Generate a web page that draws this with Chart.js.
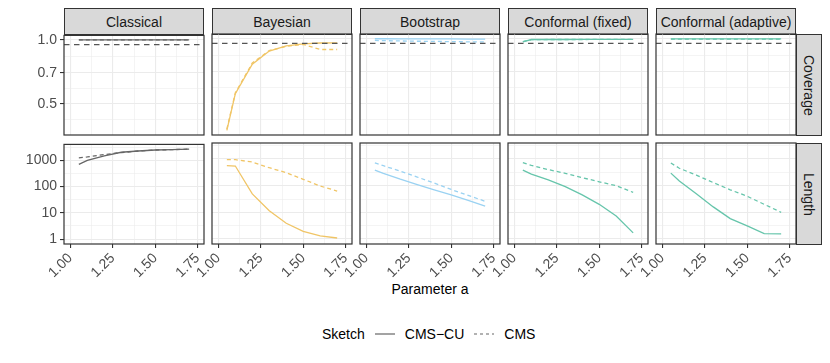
<!DOCTYPE html>
<html>
<head>
<meta charset="utf-8">
<script src="https://cdn.jsdelivr.net/npm/chart.js@4.4.1/dist/chart.umd.min.js"></script>
<style>
  body { margin: 0; background: #fff; font-family: "Liberation Sans", Arial, sans-serif; }
  #wrap { position: relative; width: 830px; height: 363px; overflow: hidden; }
  .strip { position: absolute; box-sizing: border-box; background: #D9D9D9; border: 1px solid #333;
           color: #1A1A1A; font-size: 14px; display: flex; align-items: center; justify-content: center; }
  .strip.right span { writing-mode: vertical-rl; }
  .panel { position: absolute; }
  .title { position: absolute; font-size: 14px; color: #000; }
  #legend { position: absolute; left: 322px; top: 326px; display: flex; align-items: center; font-size: 14px; }
  #legend svg { margin: 0 10px; }
</style>
</head>
<body>
<div id="wrap">
  <div class="title" style="left:0;width:860px;top:281px;text-align:center;">Parameter a</div>
  <div id="legend">
    <span>Sketch</span>
    <svg width="20" height="4"><line x1="0" y1="2" x2="20" y2="2" stroke="#666" stroke-width="1.2"/></svg>
    <span>CMS−CU</span>
    <svg width="20" height="4"><line x1="0" y1="2" x2="20" y2="2" stroke="#666" stroke-width="1.2" stroke-dasharray="3 3"/></svg>
    <span>CMS</span>
  </div>
</div>

<script type="text/javascript">
  // x values (Parameter a)
  var paramA = [1.05, 1.1, 1.2, 1.3, 1.4, 1.5, 1.6, 1.7];
  var methods = ['Classical', 'Bayesian', 'Bootstrap', 'Conformal (fixed)', 'Conformal (adaptive)'];
  var sketches = ['CMS−CU', 'CMS'];
  var metrics = ['Coverage', 'Length'];
  var methodColors = ['#666666', '#F0C566', '#9AD2F2', '#66C5AB', '#66C5AB'];
  var targetCoverage = 0.95;

  // Coverage, one array per method and sketch
  var covClassicalCU = [1.0, 1.0, 1.0, 1.0, 1.0, 1.0, 1.0, 1.0];
  var covClassicalCMS = [1.0, 1.0, 1.0, 1.0, 1.0, 1.0, 1.0, 1.0];
  var covBayesianCU = [0.375, 0.555, 0.76, 0.875, 0.925, 0.945, 0.954, 0.955];
  var covBayesianCMS = [0.38, 0.56, 0.77, 0.88, 0.92, 0.94, 0.89, 0.89];
  var covBootstrapCU = [0.998, 0.998, 0.997, 0.997, 0.996, 0.996, 0.995, 0.995];
  var covBootstrapCMS = [0.98, 0.978, 0.975, 0.972, 0.97, 0.968, 0.966, 0.965];
  var covConfFixedCU = [0.965, 0.99, 0.99, 0.99, 0.991, 0.991, 0.991, 0.992];
  var covConfFixedCMS = [0.968, 0.988, 0.99, 0.99, 0.99, 0.991, 0.991, 0.991];
  var covConfAdaptCU = [0.997, 0.997, 0.997, 0.996, 0.996, 0.996, 0.996, 0.996];
  var covConfAdaptCMS = [0.995, 0.995, 0.995, 0.995, 0.995, 0.995, 0.995, 0.995];

  // Length, one array per method and sketch
  var lenClassicalCU = [690, 980, 1450, 2000, 2230, 2440, 2520, 2630];
  var lenClassicalCMS = [1230, 1330, 1630, 1950, 2230, 2440, 2520, 2630];
  var lenBayesianCU = [560, 545, 49, 11.5, 3.9, 1.94, 1.3, 1.09];
  var lenBayesianCMS = [940, 940, 770, 470, 307, 173, 97, 63];
  var lenBootstrapCU = [385, 290, 175, 110, 70, 45, 28, 17];
  var lenBootstrapCMS = [710, 560, 350, 210, 125, 72, 43, 26];
  var lenConfFixedCU = [385, 270, 165, 92, 45, 20, 7.3, 1.7];
  var lenConfFixedCMS = [725, 580, 400, 290, 200, 140, 100, 56];
  var lenConfAdaptCU = [295, 150, 50, 16, 5.8, 3.1, 1.6, 1.55];
  var lenConfAdaptCMS = [710, 450, 250, 130, 70, 40, 20, 10];

  var coverage = [
    [covClassicalCU, covClassicalCMS], [covBayesianCU, covBayesianCMS], [covBootstrapCU, covBootstrapCMS],
    [covConfFixedCU, covConfFixedCMS], [covConfAdaptCU, covConfAdaptCMS]
  ];
  var lengths = [
    [lenClassicalCU, lenClassicalCMS], [lenBayesianCU, lenBayesianCMS], [lenBootstrapCU, lenBootstrapCMS],
    [lenConfFixedCU, lenConfFixedCMS], [lenConfAdaptCU, lenConfAdaptCMS]
  ];

  // axes: breaks, labels, minor breaks and limits
  var xTicks = [1.00, 1.25, 1.50, 1.75];
  var xLabels = ['1.00', '1.25', '1.50', '1.75'];
  var xMinor = [1.125, 1.375, 1.625];
  var xLimits = [0.9625, 1.7875];
  var covTicks = [0.5, 0.7, 1.0];
  var covLabels = ['0.5', '0.7', '1.0'];
  var covMinor = [0.4227, 0.5916, 0.8367];
  var covLimits = [0.357, 1.05];
  var lenTicks = [1, 10, 100, 1000];
  var lenLabels = ['1', '10', '100', '1000'];
  var lenMinor = [3.162, 31.62, 316.2, 3162];
  var lenLimits = [0.65, 3980];

  var FONT = '"Liberation Sans", Arial, sans-serif';
  var PANEL_LEFT = 64, PANEL_STEP = 148, PANEL_W = 140, PANEL_H = 101;
  var ROW_TOP = [34, 143];
  var PAD_TOP = 10, PAD_RIGHT = 12, AXIS_W = 64, X_AXIS_H = [12, 60];

  var wrap = document.getElementById('wrap');

  function findIndex(list, v) {
    for (var i = 0; i < list.length; i++) {
      if (Math.abs(list[i] - v) < 1e-6 * Math.max(1, Math.abs(v))) return i;
    }
    return -1;
  }

  var panelBox = {
    id: 'panelBox',
    afterDatasetsDraw: function(chart, args, opts) {
      var c = chart.ctx, a = chart.chartArea;
      if (opts.hline != null) {
        var y = chart.scales.y.getPixelForValue(opts.hline);
        c.save();
        c.strokeStyle = '#555555';
        c.lineWidth = 1.2;
        c.setLineDash([5.5, 4.5]);
        c.beginPath();
        c.moveTo(a.left, y);
        c.lineTo(a.right, y);
        c.stroke();
        c.restore();
      }
      c.save();
      c.strokeStyle = '#333333';
      c.lineWidth = 1.2;
      c.strokeRect(a.left, a.top, a.right - a.left, a.bottom - a.top);
      c.restore();
    }
  };

  function makePanel(row, col) {
    var isBottom = row === 1, isFirst = col === 0;
    var ticks = row === 0 ? covTicks : lenTicks;
    var labels = row === 0 ? covLabels : lenLabels;
    var minor = row === 0 ? covMinor : lenMinor;
    var limits = row === 0 ? covLimits : lenLimits;
    var series = row === 0 ? coverage[col] : lengths[col];

    var w = AXIS_W + PANEL_W + PAD_RIGHT;
    var h = PAD_TOP + PANEL_H + X_AXIS_H[row];
    var div = document.createElement('div');
    div.className = 'panel';
    div.style.left = (PANEL_LEFT + PANEL_STEP * col - AXIS_W) + 'px';
    div.style.top = (ROW_TOP[row] - PAD_TOP) + 'px';
    var canvas = document.createElement('canvas');
    canvas.width = w;
    canvas.height = h;
    div.appendChild(canvas);
    wrap.appendChild(div);

    var datasets = sketches.map(function(s, k) {
      return {
        label: s,
        data: paramA.map(function(a, i) { return { x: a, y: series[k][i] }; }),
        borderColor: methodColors[col],
        borderWidth: 1.3,
        borderDash: k === 1 ? [4, 3] : [],
        pointRadius: 0,
        tension: 0,
        fill: false
      };
    });

    new Chart(canvas.getContext('2d'), {
      type: 'line',
      data: { datasets: datasets },
      plugins: [panelBox],
      options: {
        responsive: false,
        animation: false,
        devicePixelRatio: 1,
        layout: { padding: { top: PAD_TOP, right: PAD_RIGHT, left: 0, bottom: 0 } },
        plugins: {
          legend: { display: false },
          tooltip: { enabled: false },
          panelBox: { hline: row === 0 ? targetCoverage : null }
        },
        scales: {
          x: {
            type: 'linear',
            min: xLimits[0],
            max: xLimits[1],
            afterBuildTicks: function(axis) {
              axis.ticks = xTicks.concat(xMinor).sort().map(function(v) { return { value: v }; });
            },
            afterFit: function(axis) { axis.height = X_AXIS_H[row]; },
            border: { display: false },
            grid: {
              color: '#EBEBEB',
              lineWidth: function(ctx) { return findIndex(xTicks, ctx.tick.value) >= 0 ? 1.1 : 0.55; },
              drawTicks: isBottom,
              tickLength: 4,
              tickColor: function(ctx) { return findIndex(xTicks, ctx.tick.value) >= 0 ? '#333333' : 'rgba(0,0,0,0)'; },
              tickWidth: 1.1
            },
            ticks: {
              display: isBottom,
              autoSkip: false,
              minRotation: 45,
              maxRotation: 45,
              padding: 2,
              color: '#4D4D4D',
              font: { family: FONT, size: 14 },
              callback: function(v) { var i = findIndex(xTicks, v); return i >= 0 ? xLabels[i] : ''; }
            }
          },
          y: {
            type: 'logarithmic',
            min: limits[0],
            max: limits[1],
            afterBuildTicks: function(axis) {
              axis.ticks = ticks.concat(minor).sort(function(a, b) { return a - b; })
                .map(function(v) { return { value: v }; });
            },
            afterFit: function(axis) { axis.width = AXIS_W; },
            border: { display: false },
            grid: {
              color: '#EBEBEB',
              lineWidth: function(ctx) { return findIndex(ticks, ctx.tick.value) >= 0 ? 1.1 : 0.55; },
              drawTicks: isFirst,
              tickLength: 4,
              tickColor: function(ctx) { return findIndex(ticks, ctx.tick.value) >= 0 ? '#333333' : 'rgba(0,0,0,0)'; },
              tickWidth: 1.1
            },
            ticks: {
              display: isFirst,
              autoSkip: false,
              padding: 3,
              color: '#4D4D4D',
              font: { family: FONT, size: 14 },
              callback: function(v) { var i = findIndex(ticks, v); return i >= 0 ? labels[i] : ''; }
            }
          }
        }
      }
    });
  }

  // strips
  methods.forEach(function(m, col) {
    var d = document.createElement('div');
    d.className = 'strip';
    d.style.left = (PANEL_LEFT + PANEL_STEP * col) + 'px';
    d.style.top = '8px';
    d.style.width = PANEL_W + 'px';
    d.style.height = '27px';
    d.textContent = m;
    wrap.appendChild(d);
  });
  metrics.forEach(function(m, row) {
    var d = document.createElement('div');
    d.className = 'strip right';
    d.style.left = (PANEL_LEFT + PANEL_STEP * 4 + PANEL_W) + 'px';
    d.style.top = ROW_TOP[row] + 'px';
    d.style.width = '26px';
    d.style.height = (PANEL_H + 1) + 'px';
    d.innerHTML = '<span>' + m + '</span>';
    wrap.appendChild(d);
  });

  for (var r = 0; r < 2; r++) {
    for (var c = 0; c < 5; c++) makePanel(r, c);
  }
</script>
</body>
</html>
